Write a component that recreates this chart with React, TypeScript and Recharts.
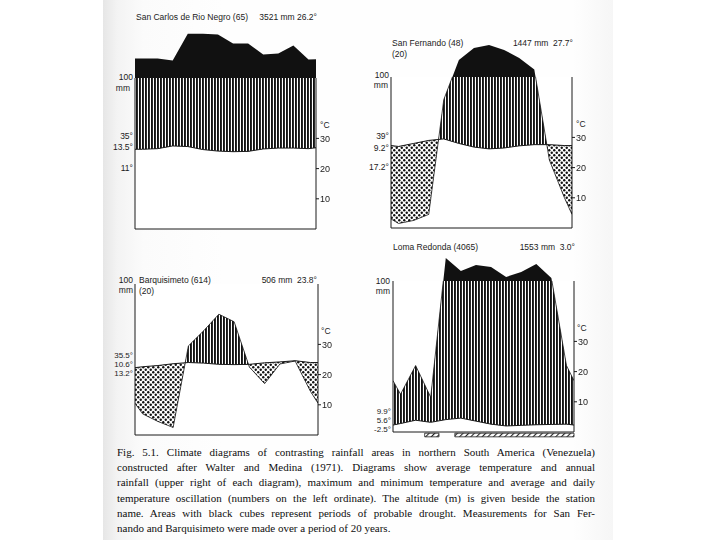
import React from "react";
import {
  ComposedChart,
  Area,
  Line,
  XAxis,
  YAxis,
  ReferenceArea,
} from "recharts";

// monthly values, Jan..Dec (rain in mm, temperature in °C)
// edge values = where the curves meet the left/right frame
const SC_RAIN = [230, 230, 217, 395, 395, 390, 330, 330, 257, 263, 317, 223];
const SC_RAIN_EDGE = [230, 225];
const SC_TEMP = [26.4, 26.6, 27.5, 27.3, 26.3, 25.8, 25.6, 25.7, 26.5, 26.8, 26.8, 26.6];
const SC_TEMP_EDGE = [26.4, 26.9];

const SF_RAIN = [3, 5, 9, 85, 213, 293, 313, 280, 227, 150, 45, 20];
const SF_RAIN_EDGE = [6, 9];
const SF_TEMP = [27.0, 28.0, 29.0, 29.5, 28.0, 26.8, 26.2, 26.5, 27.2, 27.6, 27.6, 27.3];
const SF_TEMP_EDGE = [27.3, 27.3];

const BQ_RAIN = [14, 9, 5, 59, 69, 80, 75, 45, 34, 47, 49, 29];
const BQ_RAIN_EDGE = [21, 21];
const BQ_TEMP = [22.6, 23.0, 23.6, 24.0, 23.8, 23.4, 23.3, 23.4, 23.9, 24.2, 24.6, 24.0];
const BQ_TEMP_EDGE = [22.3, 24.0];

const LR_RAIN = [25, 44, 23, 253, 167, 207, 193, 127, 160, 213, 120, 44];
const LR_RAIN_EDGE = [34, 34];
const LR_TEMP = [2.8, 3.9, 3.2, 4.1, 4.6, 3.6, 2.6, 2.0, 2.2, 2.4, 2.5, 2.6];
const LR_TEMP_EDGE = [2.3, 2.3];
// probable frost periods (month position from/to)
const LR_FROST = [
  [2.1, 3.05],
  [4.1, 12],
];

const MONTH_BOUNDS = [1, 2, 3, 4, 5, 6, 7, 8, 9, 10, 11];
const LEFT_TICKS = [10, 20, 30, 40, 50];
const TEMP_TICKS = [10, 20, 30];

const SC_LEFT = ["35°", "13.5°", "11°"];
const SF_LEFT = ["39°", "9.2°", "17.2°"];
const BQ_LEFT = ["35.5°", "10.6°", "13.2°"];
const LR_LEFT = ["9.9°", "5.6°", "-2.5°"];

const CAPTION = [
  "Fig. 5.1. Climate diagrams of contrasting rainfall areas in northern South America (Venezuela)",
  "constructed after Walter and Medina (1971). Diagrams show average temperature and annual",
  "rainfall (upper right of each diagram), maximum and minimum temperature and average and daily",
  "temperature oscillation (numbers on the left ordinate). The altitude (m) is given beside the station",
  "name. Areas with black cubes represent periods of probable drought. Measurements for San Fer-",
  "nando and Barquisimeto were made over a period of 20 years.",
];

const INK = "#1b1b1b";
const SANS = '"Liberation Sans", Arial, sans-serif';
const PX = 3; // px per °C
const M = 8;
const MR = 26;
const RW = 20; // right axis width

// Walter-Lieth ordinate: 10 °C = 20 mm, above 100 mm scale reduced 1:10
const wl = (mm: number) => (mm <= 100 ? mm / 2 : 50 + (mm - 100) / 20);

function rows(rain: number[], rainEdge: number[], temp: number[], tempEdge: number[]) {
  const out = [{ x: 0, rain: wl(rainEdge[0]), temp: tempEdge[0] }];
  rain.forEach((r, i) => out.push({ x: i + 0.5, rain: wl(r), temp: temp[i] }));
  out.push({ x: 12, rain: wl(rainEdge[1]), temp: tempEdge[1] });
  return out;
}

function T({ x, y, children, align = "left", size = 8.5 }: any) {
  const tx = align === "right" ? "-100%" : "0";
  return (
    <div
      style={{
        position: "absolute",
        left: x,
        top: y,
        transform: `translate(${tx}, -50%)`,
        fontFamily: SANS,
        fontSize: size,
        lineHeight: 1,
        color: INK,
        whiteSpace: "nowrap",
      }}
    >
      {children}
    </div>
  );
}

function Diagram({ id, left, right, zeroY, rain, rainEdge, temp, tempEdge, frost }: any) {
  const data = rows(rain, rainEdge, temp, tempEdge);
  const w = right - left;
  const lowH = 50 * PX;
  const upH = 16 * PX;

  return (
    <>
      {/* part above 100 mm (solid black) */}
      <div style={{ position: "absolute", left: left - M, top: zeroY - lowH - upH - M }}>
        <ComposedChart
          width={w + M + MR}
          height={upH + 2 * M}
          data={data}
          margin={{ top: M, right: MR, bottom: M, left: M }}
        >
          <XAxis type="number" dataKey="x" domain={[0, 12]} hide allowDataOverflow />
          <YAxis type="number" domain={[50, 66]} hide allowDataOverflow />
          <Area
            type="linear"
            dataKey={(d: any) => [50, d.rain]}
            fill="#111"
            fillOpacity={1}
            stroke="none"
            isAnimationActive={false}
          />
        </ComposedChart>
      </div>

      {/* 0..100 mm part */}
      <div
        style={{ position: "absolute", left: left - M, top: zeroY - lowH - M, isolation: "isolate" }}
      >
        <ComposedChart
          width={w + M + MR}
          height={lowH + 2 * M}
          data={data}
          margin={{ top: M, right: MR - RW, bottom: M - 1, left: M - 1 }}
        >
          <defs>
            <pattern id={`${id}-v`} patternUnits="userSpaceOnUse" width="3" height="6">
              <rect width="3" height="6" fill="#fff" />
              <rect x="0" width="1.9" height="6" fill="#111" />
            </pattern>
            <pattern id={`${id}-d`} patternUnits="userSpaceOnUse" width="5" height="5">
              <rect width="5" height="5" fill="#fff" />
              <circle cx="1.25" cy="1.25" r="1.2" fill="#111" />
              <circle cx="3.75" cy="3.75" r="1.2" fill="#111" />
            </pattern>
            <pattern
              id={`${id}-h`}
              patternUnits="userSpaceOnUse"
              width="4"
              height="4"
              patternTransform="rotate(45)"
            >
              <rect width="4" height="4" fill="#fff" />
              <rect width="1.1" height="4" fill="#222" />
            </pattern>
          </defs>
          {/* white backdrop */}
          <Area
            yAxisId="l"
            type="linear"
            dataKey={() => [0, 50]}
            fill="#fff"
            fillOpacity={1}
            stroke="none"
            isAnimationActive={false}
          />
          {/* region between rain and temperature curves */}
          <Area
            yAxisId="l"
            type="linear"
            dataKey={(d: any) => [d.rain, d.temp]}
            fill="#000"
            fillOpacity={1}
            stroke="none"
            isAnimationActive={false}
          />
          {/* humid part: stripes above temperature */}
          <Area
            yAxisId="l"
            className="wl-lighten"
            type="linear"
            dataKey={(d: any) => [d.temp, 50]}
            fill={`url(#${id}-v)`}
            fillOpacity={1}
            stroke="none"
            isAnimationActive={false}
          />
          {/* arid part: dots below temperature */}
          <Area
            yAxisId="l"
            className="wl-lighten"
            type="linear"
            dataKey={(d: any) => [0, d.temp]}
            fill={`url(#${id}-d)`}
            fillOpacity={1}
            stroke="none"
            isAnimationActive={false}
          />
          <Line
            yAxisId="l"
            type="linear"
            dataKey="rain"
            stroke={INK}
            strokeWidth={0.8}
            dot={false}
            activeDot={false}
            isAnimationActive={false}
          />
          <Line
            yAxisId="r"
            type="linear"
            dataKey="temp"
            stroke={INK}
            strokeWidth={1}
            dot={false}
            activeDot={false}
            isAnimationActive={false}
          />
          {frost &&
            frost.map((f: number[], i: number) => (
              <ReferenceArea
                key={i}
                yAxisId="l"
                x1={f[0]}
                x2={f[1]}
                y1={-0.4}
                y2={-1.6}
                ifOverflow="visible"
                fill={`url(#${id}-h)`}
                fillOpacity={1}
                stroke={INK}
                strokeWidth={0.8}
              />
            ))}
          <XAxis
            type="number"
            dataKey="x"
            domain={[0, 12]}
            ticks={MONTH_BOUNDS}
            interval={0}
            tick={false}
            tickSize={4}
            mirror
            height={1}
            allowDataOverflow
            stroke={INK}
          />
          <YAxis
            yAxisId="l"
            type="number"
            domain={[0, 50]}
            ticks={LEFT_TICKS}
            interval={0}
            tick={false}
            tickSize={3}
            width={1}
            allowDataOverflow
            stroke={INK}
          />
          <YAxis
            yAxisId="r"
            orientation="right"
            type="number"
            domain={[0, 50]}
            ticks={TEMP_TICKS}
            interval={0}
            tickSize={3}
            tickMargin={1}
            width={RW}
            allowDataOverflow
            stroke={INK}
            tick={{ fontSize: 9, fill: INK, fontFamily: SANS }}
          />
        </ComposedChart>
      </div>
    </>
  );
}

function LeftLabels({ x, ys, labels, size }: any) {
  return labels.map((l: string, i: number) => (
    <T key={i} x={x} y={ys[i]} align="right" size={size}>
      {l}
    </T>
  ));
}

export default function App() {
  return (
    <div
      style={{
        position: "absolute",
        left: 0,
        top: 0,
        width: 720,
        height: 540,
        background: "#fff",
        overflow: "hidden",
      }}
    >
      <style>{".wl-lighten{mix-blend-mode:lighten}"}</style>
      <div
        style={{
          position: "absolute",
          left: 103,
          top: 0,
          width: 510,
          height: 540,
          background:
            "linear-gradient(to right, #e6e6e6 0px, #f3f3f3 14px, #fbfbfb 40px, #fefefe 120px, #fefefe 470px, #f6f6f6 510px)",
        }}
      />

      <Diagram id="sc" left={135} right={316} zeroY={228}
        rain={SC_RAIN} rainEdge={SC_RAIN_EDGE} temp={SC_TEMP} tempEdge={SC_TEMP_EDGE} />
      <Diagram id="sf" left={391} right={572} zeroY={227}
        rain={SF_RAIN} rainEdge={SF_RAIN_EDGE} temp={SF_TEMP} tempEdge={SF_TEMP_EDGE} />
      <Diagram id="bq" left={135} right={318} zeroY={434}
        rain={BQ_RAIN} rainEdge={BQ_RAIN_EDGE} temp={BQ_TEMP} tempEdge={BQ_TEMP_EDGE} />
      <Diagram id="lr" left={393} right={574} zeroY={431}
        rain={LR_RAIN} rainEdge={LR_RAIN_EDGE} temp={LR_TEMP} tempEdge={LR_TEMP_EDGE} frost={LR_FROST} />

      {/* San Carlos */}
      <T x={136} y={17}>San Carlos de Rio Negro (65)</T>
      <T x={317} y={17} align="right">3521 mm 26.2°</T>
      <T x={133} y={77} align="right">100</T>
      <T x={130} y={88} align="right">mm</T>
      <LeftLabels x={133} ys={[136, 147, 168]} labels={SC_LEFT} />
      <T x={320} y={125}>°C</T>

      {/* San Fernando */}
      <T x={392} y={43}>San Fernando (48)</T>
      <T x={392} y={54}>(20)</T>
      <T x={573} y={43} align="right">1447 mm&nbsp;&nbsp;27.7°</T>
      <T x={389} y={75} align="right">100</T>
      <T x={388} y={85} align="right">mm</T>
      <LeftLabels x={389} ys={[136, 148, 167]} labels={SF_LEFT} />
      <T x={576} y={124}>°C</T>

      {/* Barquisimeto */}
      <T x={139} y={280}>Barquisimeto (614)</T>
      <T x={139} y={291}>(20)</T>
      <T x={317} y={280} align="right">506 mm&nbsp;&nbsp;23.8°</T>
      <T x={133} y={280} align="right">100</T>
      <T x={133} y={290} align="right">mm</T>
      <LeftLabels x={133} ys={[356, 365, 374]} labels={BQ_LEFT} size={8} />
      <T x={321} y={331}>°C</T>

      {/* Loma Redonda */}
      <T x={393} y={247}>Loma Redonda (4065)</T>
      <T x={575} y={247} align="right">1553 mm&nbsp;&nbsp;3.0°</T>
      <T x={390} y={281} align="right">100</T>
      <T x={390} y={291} align="right">mm</T>
      <LeftLabels x={391} ys={[412, 421, 430]} labels={LR_LEFT} size={8} />
      <T x={577} y={328}>°C</T>

      {/* caption */}
      <div
        style={{
          position: "absolute",
          left: 117,
          top: 445,
          width: 478,
          fontFamily: '"Liberation Serif", "Times New Roman", serif',
          fontSize: 11,
          lineHeight: "15.2px",
          color: "#0e0e0e",
        }}
      >
        {CAPTION.map((line, i) => (
          <div
            key={i}
            style={{
              whiteSpace: "nowrap",
              textAlign: i < CAPTION.length - 1 ? "justify" : "left",
              textAlignLast: i < CAPTION.length - 1 ? "justify" : "left",
            }}
          >
            {line}
          </div>
        ))}
      </div>
    </div>
  );
}
